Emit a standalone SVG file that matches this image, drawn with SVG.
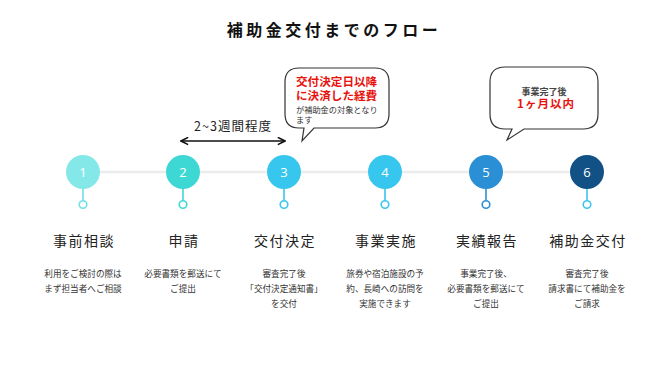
<svg xmlns="http://www.w3.org/2000/svg" width="670" height="377" viewBox="0 0 670 377">
<style>
text{font-family:"Noto Sans CJK JP","Noto Sans",sans-serif}
.num{fill:#fff;font-size:13px;text-anchor:middle;font-family:"Open Sans","Noto Sans",sans-serif}
.ttl{fill:#222;font-size:14px;text-anchor:middle;letter-spacing:1.5px}
.dsc{fill:#333;font-size:8.6px;text-anchor:middle}
.stem{stroke-width:1.6;fill:#fff}
.bub{fill:#fff;stroke:#333;stroke-width:1.2}
.red{fill:#e8120c;font-weight:bold}
</style>
<defs>
<marker id="ah" viewBox="0 0 10 10" refX="9" refY="5" markerWidth="6" markerHeight="6" orient="auto-start-reverse">
<path d="M1,1 L9,5 L1,9" fill="none" stroke="#111" stroke-width="1.8"/>
</marker>
</defs>
<rect width="670" height="377" fill="#fff"/>
<text x="334" y="36" font-size="16" font-weight="bold" fill="#111" text-anchor="middle" letter-spacing="3.5">補助金交付までのフロー</text>
<g id="connectors">
<line x1="83" y1="172" x2="587" y2="172" stroke="#ececec" stroke-width="2.5"/>
<line x1="181" y1="141" x2="285" y2="141" stroke="#111" stroke-width="1.5" marker-start="url(#ah)" marker-end="url(#ah)"/>
<text x="233" y="131" font-size="12.5" fill="#222" text-anchor="middle" letter-spacing="1">2~3週間程度</text>
</g>
<g id="bubble1">
<path class="bub" d="M299,68 H375 Q389,68 389,82 V114 Q389,128 375,128 H314 L302,141 L304,128 H299 Q285,128 285,114 V82 Q285,68 299,68 Z"/>
<text x="296" y="86" font-size="11.6" class="red">交付決定日以降</text>
<text x="296" y="100" font-size="11.6" class="red">に決済した経費</text>
<text x="296" y="112.5" font-size="8.2" fill="#333">が補助金の対象となり</text>
<text x="296" y="122.5" font-size="8.2" fill="#333">ます</text>
</g>
<g id="bubble2">
<path class="bub" d="M505,67 H583 Q598,67 598,82 V114 Q598,129 583,129 H524 L507,140 L512,129 H505 Q490,129 490,114 V82 Q490,67 505,67 Z"/>
<text x="544" y="95" font-size="9" font-weight="bold" fill="#444" text-anchor="middle">事業完了後</text>
<text x="546" y="108" font-size="11.5" class="red" text-anchor="middle" letter-spacing="1">1ヶ月以内</text>
</g>
<g id="step1">
<line class="stem" x1="83" y1="186" x2="83" y2="200" stroke="#6fe0e6"/>
<circle class="stem" cx="83" cy="204.5" r="3.8" stroke="#6fe0e6"/>
<circle cx="83" cy="172" r="17" fill="#85e8e8"/>
<text class="num" x="83" y="177">1</text>
<text class="ttl" x="84" y="246">事前相談</text>
<text class="dsc" x="83" y="277">利用をご検討の際は</text>
<text class="dsc" x="83" y="292">まず担当者へご相談</text>
</g>
<g id="step2">
<line class="stem" x1="183" y1="186" x2="183" y2="200" stroke="#3ed8d4"/>
<circle class="stem" cx="183" cy="204.5" r="3.8" stroke="#3ed8d4"/>
<circle cx="183" cy="172" r="17" fill="#3ed8d4"/>
<text class="num" x="183" y="177">2</text>
<text class="ttl" x="184" y="246">申請</text>
<text class="dsc" x="183" y="277">必要書類を郵送にて</text>
<text class="dsc" x="183" y="292">ご提出</text>
</g>
<g id="step3">
<line class="stem" x1="284" y1="186" x2="284" y2="200" stroke="#37c6ed"/>
<circle class="stem" cx="284" cy="204.5" r="3.8" stroke="#37c6ed"/>
<circle cx="284" cy="172" r="17" fill="#37c6ed"/>
<text class="num" x="284" y="177">3</text>
<text class="ttl" x="285" y="246">交付決定</text>
<text class="dsc" x="284" y="277">審査完了後</text>
<text class="dsc" x="284" y="292">「交付決定通知書」</text>
<text class="dsc" x="284" y="307">を交付</text>
</g>
<g id="step4">
<line class="stem" x1="385" y1="186" x2="385" y2="200" stroke="#37c6ed"/>
<circle class="stem" cx="385" cy="204.5" r="3.8" stroke="#37c6ed"/>
<circle cx="385" cy="172" r="17" fill="#37c6ed"/>
<text class="num" x="385" y="177">4</text>
<text class="ttl" x="386" y="246">事業実施</text>
<text class="dsc" x="385" y="277">旅券や宿泊施設の予</text>
<text class="dsc" x="385" y="292">約、長崎への訪問を</text>
<text class="dsc" x="385" y="307">実施できます</text>
</g>
<g id="step5">
<line class="stem" x1="486" y1="186" x2="486" y2="200" stroke="#2b8fd6"/>
<circle class="stem" cx="486" cy="204.5" r="3.8" stroke="#2b8fd6"/>
<circle cx="486" cy="172" r="17" fill="#2b8fd6"/>
<text class="num" x="486" y="177">5</text>
<text class="ttl" x="487" y="246">実績報告</text>
<text class="dsc" x="486" y="277">事業完了後、</text>
<text class="dsc" x="486" y="292">必要書類を郵送にて</text>
<text class="dsc" x="486" y="307">ご提出</text>
</g>
<g id="step6">
<line class="stem" x1="587" y1="186" x2="587" y2="200" stroke="#3cc6ee"/>
<circle class="stem" cx="587" cy="204.5" r="3.8" stroke="#3cc6ee"/>
<circle cx="587" cy="172" r="17" fill="#125185"/>
<text class="num" x="587" y="177">6</text>
<text class="ttl" x="588" y="246">補助金交付</text>
<text class="dsc" x="587" y="277">審査完了後</text>
<text class="dsc" x="587" y="292">請求書にて補助金を</text>
<text class="dsc" x="587" y="307">ご請求</text>
</g>
</svg>
